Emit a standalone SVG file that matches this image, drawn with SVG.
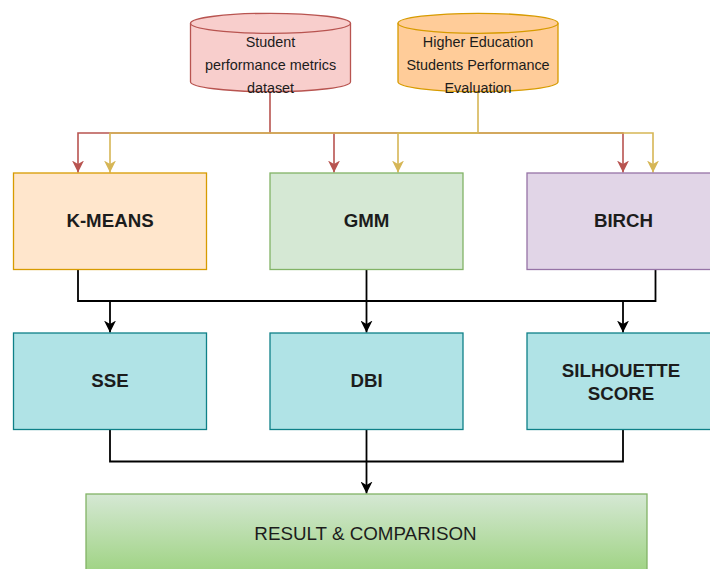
<svg xmlns="http://www.w3.org/2000/svg" width="710" height="569" viewBox="0 0 710 569">
<style>
.lbl{font-family:"Liberation Sans",Arial,sans-serif;fill:#1c1c1c;text-anchor:middle}
.b{font-weight:bold;font-size:18.7px}
.s{font-size:14.4px}
.r{font-size:18.8px}
.red{fill:none;stroke:#b85450;stroke-width:1.6}
.yel{fill:none;stroke:#d6b656;stroke-width:1.6}
.blk{fill:none;stroke:#000;stroke-width:1.8}
</style>
<defs>
<marker id="ar" viewBox="0 0 10 10" refX="10" refY="5" markerWidth="12" markerHeight="12" orient="auto" markerUnits="userSpaceOnUse"><path d="M0,0 L10,5 L0,10 L3,5 z" fill="#b85450"/></marker>
<marker id="ay" viewBox="0 0 10 10" refX="10" refY="5" markerWidth="12" markerHeight="12" orient="auto" markerUnits="userSpaceOnUse"><path d="M0,0 L10,5 L0,10 L3,5 z" fill="#d6b656"/></marker>
<marker id="ab" viewBox="0 0 10 10" refX="10" refY="5" markerWidth="12" markerHeight="12" orient="auto" markerUnits="userSpaceOnUse"><path d="M0,0 L10,5 L0,10 L3,5 z" fill="#000"/></marker>
<linearGradient id="g" x1="0" y1="0" x2="0" y2="1"><stop offset="0" stop-color="#d5e8d4"/><stop offset="1" stop-color="#97d077"/></linearGradient>
</defs>
<rect width="710" height="569" fill="#fff"/>

<g id="connectors">
<path class="red" d="M270,92 V133 H78 V172.5" marker-end="url(#ar)"/>
<path class="red" d="M270,133 H334 V172.5" marker-end="url(#ar)"/>
<path class="red" d="M334,133 H623 V172.5" marker-end="url(#ar)"/>
<path class="yel" d="M478,92 V133 H110 V172.5" marker-end="url(#ay)"/>
<path class="yel" d="M478,133 H398 V172.5" marker-end="url(#ay)"/>
<path class="yel" d="M478,133 H653 V172.5" marker-end="url(#ay)"/>
<path class="blk" d="M78,269.5 V301 H655.5 V269.5"/>
<path class="blk" d="M110,301 V332.5" marker-end="url(#ab)"/>
<path class="blk" d="M366.5,269.5 V332.5" marker-end="url(#ab)"/>
<path class="blk" d="M623,301 V332.5" marker-end="url(#ab)"/>
<path class="blk" d="M110,429.5 V461.5 H623 V429.5"/>
<path class="blk" d="M366.5,429.5 V493.5" marker-end="url(#ab)"/>
</g>

<g id="dataset1">
<path d="M190.5,23.3 A80,10 0 0 1 350.5,23.3 V81.7 A80,10 0 0 1 190.5,81.7 Z" fill="#f8cecc" stroke="#b85450" stroke-width="1.3"/>
<path d="M190.5,23.3 A80,10 0 0 0 350.5,23.3" fill="none" stroke="#b85450" stroke-width="1.3"/>
<text class="lbl s" x="270.5" y="46.5">Student</text>
<text class="lbl s" x="270.5" y="69.5">performance metrics</text>
<text class="lbl s" x="270.5" y="92.5">dataset</text>
</g>

<g id="dataset2">
<path d="M398,23.3 A80,10 0 0 1 558,23.3 V81.7 A80,10 0 0 1 398,81.7 Z" fill="#ffcc99" stroke="#d79b00" stroke-width="1.3"/>
<path d="M398,23.3 A80,10 0 0 0 558,23.3" fill="none" stroke="#d79b00" stroke-width="1.3"/>
<text class="lbl s" x="478" y="46.5">Higher Education</text>
<text class="lbl s" x="478" y="69.5">Students Performance</text>
<text class="lbl s" x="478" y="92.5">Evaluation</text>
</g>

<g id="kmeans">
<rect x="13.5" y="173" width="193" height="96.5" fill="#ffe6cc" stroke="#d79b00" stroke-width="1.3"/>
<text class="lbl b" x="110" y="227">K-MEANS</text>
</g>
<g id="gmm">
<rect x="270" y="173" width="193" height="96.5" fill="#d5e8d4" stroke="#82b366" stroke-width="1.3"/>
<text class="lbl b" x="366.5" y="227">GMM</text>
</g>
<g id="birch">
<rect x="527" y="173" width="193" height="96.5" fill="#e1d5e7" stroke="#9673a6" stroke-width="1.3"/>
<text class="lbl b" x="623.5" y="227">BIRCH</text>
</g>

<g id="sse">
<rect x="13.5" y="333" width="193" height="96.5" fill="#b0e3e6" stroke="#0e8088" stroke-width="1.3"/>
<text class="lbl b" x="110" y="387">SSE</text>
</g>
<g id="dbi">
<rect x="270" y="333" width="193" height="96.5" fill="#b0e3e6" stroke="#0e8088" stroke-width="1.3"/>
<text class="lbl b" x="366.5" y="387">DBI</text>
</g>
<g id="silhouette">
<rect x="527" y="333" width="193" height="96.5" fill="#b0e3e6" stroke="#0e8088" stroke-width="1.3"/>
<text class="lbl b" x="621" y="377">SILHOUETTE</text>
<text class="lbl b" x="621" y="400">SCORE</text>
</g>

<g id="result">
<rect x="86" y="494" width="561" height="90" fill="url(#g)" stroke="#82b366" stroke-width="1.3"/>
<text class="lbl r" x="365.5" y="539.5">RESULT &amp; COMPARISON</text>
</g>
</svg>
